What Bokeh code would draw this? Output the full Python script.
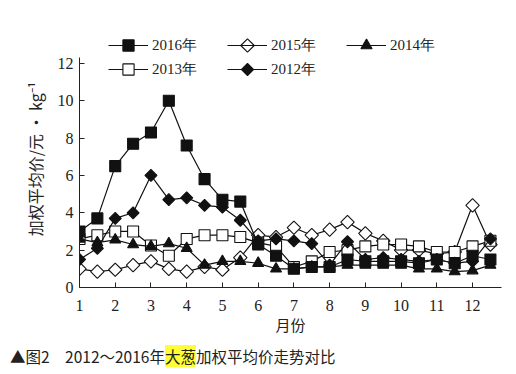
import math
from bokeh.plotting import figure
from bokeh.models import Legend, LegendItem, Range1d, FixedTicker, Div
from bokeh.layouts import column
from bokeh.embed import file_html
from bokeh.resources import INLINE

months = [1, 1.5, 2, 2.5, 3, 3.5, 4, 4.5, 5, 5.5, 6, 6.5,
          7, 7.5, 8, 8.5, 9, 9.5, 10, 10.5, 11, 11.5, 12, 12.5]

y2016 = [3.0, 3.7, 6.5, 7.7, 8.3, 10.0, 7.6, 5.8, 4.7, 4.6, 2.3, 1.7,
         1.0, 1.1, 1.1, 1.5, 1.4, 1.4, 1.4, 1.3, 1.5, 1.3, 1.7, 1.5]
y2015 = [1.0, 0.85, 0.95, 1.2, 1.4, 1.0, 0.85, 1.1, 0.95, 1.6, 2.8, 2.7,
         3.2, 2.8, 3.1, 3.5, 2.9, 2.5, 2.0, 2.0, 1.8, 1.9, 4.4, 2.3]
y2014 = [2.6, 2.4, 2.55, 2.3, 2.2, 2.35, 2.1, 1.2, 1.4, 1.4, 1.3, 1.0,
         1.0, 1.1, 1.1, 1.2, 1.2, 1.2, 1.2, 1.0, 1.0, 0.85, 0.9, 1.2]
y2013 = [2.6, 2.8, 3.0, 3.0, 2.25, 1.7, 2.6, 2.8, 2.8, 2.7, 2.4, 2.2,
         1.1, 1.4, 1.9, 2.0, 2.2, 2.3, 2.3, 2.2, 1.9, 1.9, 2.2, 2.5]
y2012 = [1.5, 2.1, 3.7, 4.0, 6.0, 4.7, 4.8, 4.4, 4.3, 3.6, 2.5, 2.6,
         2.5, 2.35, 1.2, 2.45, 1.5, 1.6, 1.5, 1.4, 1.5, 1.3, 1.4, 2.6]

x_ticks = [1, 2, 3, 4, 5, 6, 7, 8, 9, 10, 11, 12]
y_ticks = [0, 2, 4, 6, 8, 10, 12]

legend_row1 = ["2016年", "2015年", "2014年"]
legend_row2 = ["2013年", "2012年"]

SERIF = "Liberation Serif, Times New Roman, DejaVu Serif, serif"
CJK = "Noto Sans CJK SC"

# layout (pixels)
W, H = 508, 342
BL, BR, BT, BB = 79, 7, 30, 55
X0, X1 = 1.0, 12.81
Y0, Y1 = 0.0, 13.76
FW, FH = W - BL - BR, H - BT - BB
LEG_LEFT = 29          # legend left, px right of the frame's left edge
LEG_PERIOD = 119       # px between legend columns
GLYPH_W, GLYPH_H = 40, 28
ROW_CENTER = [242, 218]  # legend row centres, px above the frame's bottom

p = figure(width=W, height=H, output_backend="svg", toolbar_location=None,
           x_range=Range1d(X0, X1), y_range=Range1d(Y0, Y1),
           min_border_left=BL, min_border_right=BR, min_border_top=BT,
           min_border_bottom=BB)
p.outline_line_color = None
p.xgrid.visible = False
p.ygrid.visible = False
p.background_fill_color = "white"

for ax in (p.xaxis[0], p.yaxis[0]):
    ax.major_tick_in = 5
    ax.major_tick_out = 0
    ax.minor_tick_line_color = None
    ax.axis_line_color = "#222222"
    ax.major_tick_line_color = "#222222"
    ax.major_label_text_font = SERIF
    ax.major_label_text_font_size = "16px"
    ax.major_label_text_color = "#222222"
    ax.axis_label_text_font = CJK
    ax.axis_label_text_font_style = "normal"
    ax.axis_label_text_color = "#222222"

p.xaxis[0].axis_label_text_font_size = "15px"
p.yaxis[0].axis_label_text_font_size = "16px"
p.xaxis[0].ticker = FixedTicker(ticks=x_ticks)
p.yaxis[0].ticker = FixedTicker(ticks=y_ticks)
p.yaxis[0].bounds = (0, 12.32)
p.xaxis[0].major_label_standoff = 12
p.yaxis[0].major_label_standoff = 6
p.xaxis[0].axis_label = "月份"
p.xaxis[0].axis_label_standoff = 0
p.yaxis[0].axis_label = "加权平均价/元 · kg⁻¹"
p.yaxis[0].axis_label_standoff = 8

LW = 1.2
C = "#111111"

def series(ys, marker, size, fill, angle=0.0):
    l = p.line(months, ys, line_color=C, line_width=LW)
    s = p.scatter(months, ys, marker=marker, size=size, angle=angle,
                  line_color=C, line_width=1.1, fill_color=fill)
    return l, s

l2015, s2015 = series(y2015, "square", 9.5, "white", math.pi / 4)
l2013, s2013 = series(y2013, "square", 11, "white")
l2012, s2012 = series(y2012, "square", 8.5, C, math.pi / 4)
l2014, s2014 = series(y2014, "triangle", 11, C)
l2016, s2016 = series(y2016, "square", 11, C)

def make_legend(labels, renderers, center):
    lg = Legend(items=[LegendItem(label=t, renderers=r) for t, r in zip(labels, renderers)],
                orientation="horizontal", location=(LEG_LEFT, center - GLYPH_H // 2),
                glyph_width=GLYPH_W, glyph_height=GLYPH_H, label_standoff=4,
                spacing=LEG_PERIOD - GLYPH_W - 4 - 45,
                padding=0, margin=0, border_line_color=None,
                background_fill_alpha=0,
                label_text_font=SERIF, label_text_font_size="15px",
                label_text_color="#222222")
    p.add_layout(lg, "center")

make_legend(legend_row1, [[l2016, s2016], [l2015], [l2014, s2014]], ROW_CENTER[0])
make_legend(legend_row2, [[l2013, s2013], [l2012]], ROW_CENTER[1])

# rotated-square legend symbols (Bokeh's legend ignores marker angle)
def px_to_x(px):
    return X0 + px * (X1 - X0) / FW

def px_to_y(px):
    return Y0 + px * (Y1 - Y0) / FH

sym_x = px_to_x(LEG_LEFT + LEG_PERIOD + GLYPH_W / 2)
p.scatter([sym_x], [px_to_y(ROW_CENTER[0])], marker="square", size=9.5,
          angle=math.pi / 4, line_color=C, line_width=1.1, fill_color="white",
          level="overlay")
p.scatter([sym_x], [px_to_y(ROW_CENTER[1])], marker="square", size=8.5,
          angle=math.pi / 4, line_color=C, line_width=1.1, fill_color=C,
          level="overlay")

caption = Div(
    text=('<div style="font-family:\'Noto Sans CJK SC\';font-size:15.5px;color:#222;'
          'padding-left:10px;line-height:28px;white-space:nowrap">'
          '▲图2　2012～2016年<span style="background:#ffff33">大葱</span>'
          '加权平均价走势对比</div>'),
    width=W, height=28, margin=(0, 0, 0, 0))

layout = column(p, caption, spacing=0)
open("out.html", "w").write(file_html(layout, INLINE))
